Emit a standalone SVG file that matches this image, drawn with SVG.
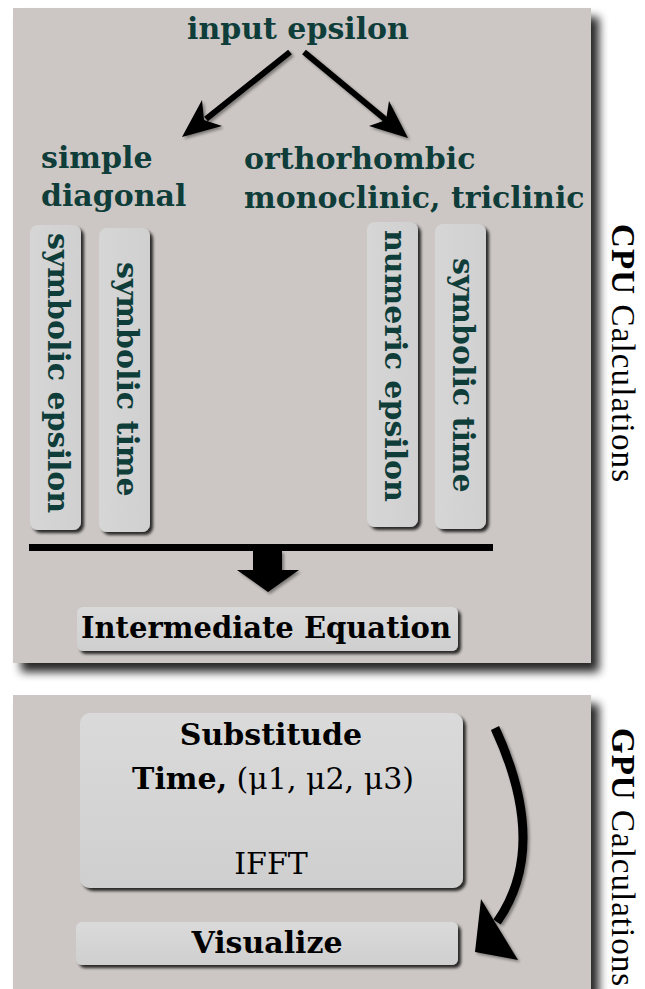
<svg xmlns="http://www.w3.org/2000/svg" width="645" height="989" viewBox="0 0 645 989">
  <defs>
    <filter id="panelShadow" x="-10%" y="-10%" width="125%" height="125%">
      <feGaussianBlur in="SourceAlpha" stdDeviation="5"/>
      <feOffset dx="8" dy="9" result="b"/>
      <feComponentTransfer><feFuncA type="linear" slope="0.85"/></feComponentTransfer>
      <feMerge><feMergeNode/><feMergeNode in="SourceGraphic"/></feMerge>
    </filter>
    <filter id="boxShadow" x="-20%" y="-20%" width="150%" height="150%">
      <feGaussianBlur in="SourceAlpha" stdDeviation="1.5"/>
      <feOffset dx="3" dy="3"/>
      <feComponentTransfer><feFuncA type="linear" slope="0.8"/></feComponentTransfer>
      <feMerge><feMergeNode/><feMergeNode in="SourceGraphic"/></feMerge>
    </filter>
    <filter id="arrowShadow" x="-20%" y="-20%" width="150%" height="150%">
      <feGaussianBlur in="SourceAlpha" stdDeviation="1.5"/>
      <feOffset dx="2" dy="2"/>
      <feComponentTransfer><feFuncA type="linear" slope="0.4"/></feComponentTransfer>
      <feMerge><feMergeNode/><feMergeNode in="SourceGraphic"/></feMerge>
    </filter>
    <linearGradient id="boxGrad" x1="0" y1="0" x2="0" y2="1">
      <stop offset="0" stop-color="#dadada"/>
      <stop offset="1" stop-color="#cfcfcf"/>
    </linearGradient>
    <linearGradient id="vboxGrad" x1="0" y1="0" x2="1" y2="0">
      <stop offset="0" stop-color="#d6d6d6"/>
      <stop offset="1" stop-color="#d0d0d0"/>
    </linearGradient>
  </defs>
  <style>
    .panel { fill: #ccc7c4; }
    .box { fill: url(#boxGrad); filter: url(#boxShadow); }
    .vbox { fill: url(#vboxGrad); filter: url(#boxShadow); }
    .teal { font-family: "DejaVu Serif", "Liberation Serif", serif; font-weight: bold; font-size: 30px; fill: #0f3d3a; }
    .blk { font-family: "DejaVu Serif", "Liberation Serif", serif; font-size: 30px; fill: #000; }
    .blk.small { font-size: 29px; }
    .b { font-weight: bold; }
    .side { font-family: "Liberation Serif", serif; font-size: 33px; fill: #000; }
    .arrow { fill: #000; filter: url(#arrowShadow); }
  </style>

  <rect width="645" height="989" fill="#ffffff"/>

  <!-- Panels -->
  <g id="cpu-panel">
    <rect class="panel" x="13" y="8" width="578" height="655" filter="url(#panelShadow)"/>
  </g>
  <g id="gpu-panel">
    <rect class="panel" x="13" y="695" width="578" height="310" filter="url(#panelShadow)"/>
  </g>

  <!-- Nodes -->
  <g id="input-epsilon">
    <text class="teal" x="298" y="39" text-anchor="middle">input epsilon</text>
  </g>
  <g id="simple-diagonal">
    <text class="teal" x="41" y="168">simple</text>
    <text class="teal" x="41" y="206">diagonal</text>
  </g>
  <g id="orthorhombic">
    <text class="teal" x="244" y="169">orthorhombic</text>
    <text class="teal" x="244" y="208">monoclinic, triclinic</text>
  </g>

  <g id="symbolic-epsilon-left">
    <rect class="vbox" x="30" y="225" width="51" height="305" rx="8"/>
    <text class="teal" transform="translate(48,233) rotate(90)">symbolic epsilon</text>
  </g>
  <g id="symbolic-time-left">
    <rect class="vbox" x="99" y="228" width="51" height="304" rx="8"/>
    <text class="teal" transform="translate(117,262) rotate(90)">symbolic time</text>
  </g>
  <g id="numeric-epsilon">
    <rect class="vbox" x="367" y="222" width="51" height="305" rx="8"/>
    <text class="teal" transform="translate(385,230) rotate(90)">numeric epsilon</text>
  </g>
  <g id="symbolic-time-right">
    <rect class="vbox" x="435" y="224" width="51" height="305" rx="8"/>
    <text class="teal" transform="translate(453,258) rotate(90)">symbolic time</text>
  </g>

  <g id="intermediate-equation">
    <rect class="box" x="77" y="607" width="381" height="44" rx="6"/>
    <text class="blk b small" x="266" y="638" text-anchor="middle">Intermediate Equation</text>
  </g>

  <g id="substitude">
    <rect class="box" x="80" y="713" width="383" height="175" rx="10"/>
    <text class="blk b" x="271" y="745" text-anchor="middle">Substitude</text>
    <text class="blk" x="273" y="789" text-anchor="middle"><tspan class="b">Time,</tspan> (μ1, μ2, μ3)</text>
    <text class="blk" x="271" y="874" text-anchor="middle">IFFT</text>
  </g>

  <g id="visualize">
    <rect class="box" x="76" y="922" width="382" height="43" rx="6"/>
    <text class="blk b" x="267" y="953" text-anchor="middle">Visualize</text>
  </g>

  <g id="cpu-label">
    <text class="side" transform="translate(612,224) rotate(90)" textLength="258" lengthAdjust="spacing"><tspan font-weight="bold">CPU</tspan> Calculations</text>
  </g>
  <g id="gpu-label">
    <text class="side" transform="translate(612,728) rotate(90)" textLength="258" lengthAdjust="spacing"><tspan font-weight="bold">GPU</tspan> Calculations</text>
  </g>

  <!-- Connectors -->
  <g id="connectors">
    <g class="arrow">
      <line x1="290" y1="52" x2="206" y2="119" stroke="#000" stroke-width="6"/>
      <polygon points="182,137 202,100 204,120 222,126"/>
    </g>
    <g class="arrow">
      <line x1="304" y1="52" x2="386" y2="120" stroke="#000" stroke-width="6"/>
      <polygon points="408,138 369,126 386,120 389,101"/>
    </g>
    <rect x="29" y="544" width="464" height="7" fill="#000"/>
    <polygon class="arrow" points="253,551 282,551 282,570 299,570 268,592 237,570 253,570"/>
    <g class="arrow">
      <path d="M495,728 Q550,847 497,922" fill="none" stroke="#000" stroke-width="9"/>
      <polygon points="475,952 481,899 496,924 518,960"/>
    </g>
  </g>
</svg>
